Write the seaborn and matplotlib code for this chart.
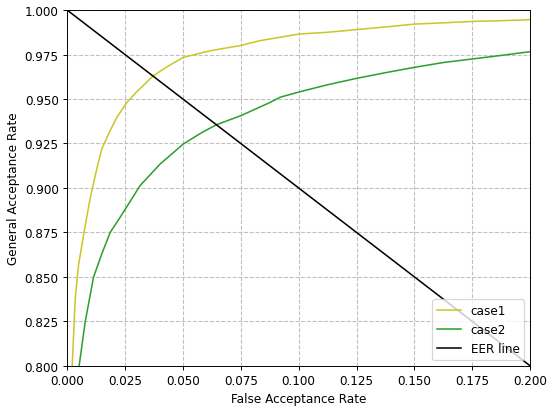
import pandas as pd
import matplotlib
matplotlib.use("Agg")
import matplotlib.pyplot as plt
import seaborn as sns

# curves
case1_far = [0.0018, 0.0022, 0.0035, 0.0049, 0.0073, 0.0099, 0.0125, 0.015, 0.0185, 0.0215,
             0.0258, 0.0300, 0.0373, 0.0430, 0.0502, 0.0617, 0.0747, 0.0833, 0.0920,
             0.1000, 0.1125, 0.1250, 0.1375, 0.1500, 0.1625, 0.1750, 0.1875, 0.2000]
case1_gar = [0.790, 0.800, 0.8376, 0.8563, 0.875, 0.8938, 0.909, 0.922, 0.932, 0.9397,
             0.948, 0.954, 0.9631, 0.968, 0.9734, 0.9771, 0.980, 0.9828, 0.9847,
             0.9865, 0.9875, 0.989, 0.9905, 0.9921, 0.9928, 0.9936, 0.9940, 0.9946]

case2_far = [0.0048, 0.0052, 0.0078, 0.0114, 0.0150, 0.0186, 0.0229, 0.0279, 0.0315, 0.0402,
             0.0502, 0.0580, 0.0646, 0.0750, 0.0877, 0.0920, 0.1006, 0.1125, 0.1250,
             0.1375, 0.1500, 0.1625, 0.1750, 0.1875, 0.2000]
case2_gar = [0.790, 0.800, 0.8246, 0.8498, 0.863, 0.875, 0.8835, 0.8938, 0.9013, 0.9135,
             0.9247, 0.9310, 0.9356, 0.9406, 0.9481, 0.951, 0.9541, 0.958, 0.9616,
             0.9648, 0.9678, 0.9705, 0.9725, 0.9745, 0.9766]

eer_far = [0.0, 0.2]
eer_gar = [1.0, 0.8]

df = pd.concat([
    pd.DataFrame({'FAR': case1_far, 'GAR': case1_gar, 'curve': 'case1'}),
    pd.DataFrame({'FAR': case2_far, 'GAR': case2_gar, 'curve': 'case2'}),
    pd.DataFrame({'FAR': eer_far, 'GAR': eer_gar, 'curve': 'EER line'}),
], ignore_index=True)

fig, ax = plt.subplots(figsize=(550 / 86, 409 / 86), dpi=86)
fig.subplots_adjust(left=0.122, right=0.964, top=0.973, bottom=0.103)

sns.lineplot(data=df, x='FAR', y='GAR', hue='curve', estimator=None, sort=False,
             palette={'case1': '#c8c828', 'case2': '#2ca02c', 'EER line': 'black'},
             linewidth=1.3, ax=ax)

ax.set_xlim(0, 0.2)
ax.set_ylim(0.8, 1.0)
ax.set_xticks([0, 0.025, 0.05, 0.075, 0.1, 0.125, 0.15, 0.175, 0.2])
ax.set_yticks([0.8, 0.825, 0.85, 0.875, 0.9, 0.925, 0.95, 0.975, 1.0])
ax.xaxis.set_major_formatter(matplotlib.ticker.FormatStrFormatter('%.3f'))
ax.yaxis.set_major_formatter(matplotlib.ticker.FormatStrFormatter('%.3f'))
ax.grid(True, linestyle='--', color='#c0c0c0', linewidth=0.9)
ax.set_xlabel("False Acceptance Rate")
ax.set_ylabel("General Acceptance Rate")
ax.legend(title=None, loc='lower right')

fig.savefig("out.png", dpi=86)
